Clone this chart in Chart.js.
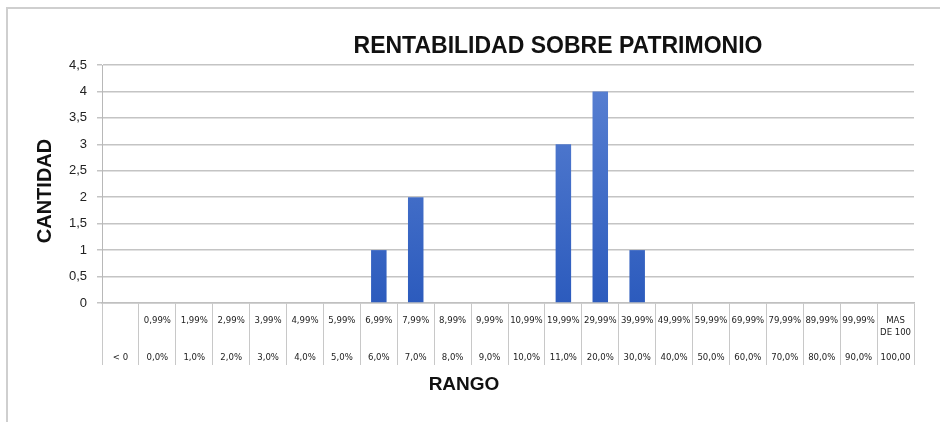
<!DOCTYPE html>
<html>
<head>
<meta charset="utf-8">
<script src="https://cdn.jsdelivr.net/npm/chart.js@4.4.1/dist/chart.umd.min.js"></script>
<style>
  body { margin: 0; background: #fff; }
  #wrap { position: absolute; left: 0; top: 0; width: 940px; height: 422px; }
  #frame { position: absolute; left: 6px; top: 7px; width: 960px; height: 440px;
           border-top: 2px solid #cfcfcf; border-left: 2px solid #cfcfcf; pointer-events: none; }
</style>
</head>
<body>
<div id="wrap"><canvas id="chart-bar" width="940" height="422"></canvas></div>
<div id="frame"></div>
<script>
// rangos (linea superior / linea inferior de cada celda)
var upperLabels = ["", "0,99%", "1,99%", "2,99%", "3,99%", "4,99%", "5,99%", "6,99%", "7,99%", "8,99%", "9,99%",
                   "10,99%", "19,99%", "29,99%", "39,99%", "49,99%", "59,99%", "69,99%", "79,99%", "89,99%", "99,99%", "MAS"];
var lowerLabels = ["< 0", "0,0%", "1,0%", "2,0%", "3,0%", "4,0%", "5,0%", "6,0%", "7,0%", "8,0%", "9,0%",
                   "10,0%", "11,0%", "20,0%", "30,0%", "40,0%", "50,0%", "60,0%", "70,0%", "80,0%", "90,0%", "100,00"];
var cantidad = [0, 0, 0, 0, 0, 0, 0, 1, 2, 0, 0, 0, 3, 4, 1, 0, 0, 0, 0, 0, 0, 0];
var yTicks = [0, 0.5, 1, 1.5, 2, 2.5, 3, 3.5, 4, 4.5];

var labels = upperLabels.map(function(u, i) {
    var second = (u === "MAS") ? "DE 100" : "";
    return [u, second, "", lowerLabels[i]];
});

// titulos dibujados a mano (posicion como en el original)
var titlesPlugin = {
    id: 'titles',
    afterDraw: function(chart) {
        var c = chart.ctx;
        c.save();
        c.fillStyle = '#111';
        c.textAlign = 'center';
        c.textBaseline = 'middle';
        c.font = "bold 23px 'Liberation Sans', sans-serif";
        c.fillText("RENTABILIDAD SOBRE PATRIMONIO", 558, 47);
        c.font = "bold 19px 'Liberation Sans', sans-serif";
        c.fillText("RANGO", 464, 385);
        c.translate(45, 191);
        c.rotate(-Math.PI / 2);
        c.font = "bold 20px 'Liberation Sans', sans-serif";
        c.fillText("CANTIDAD", 0, 0);
        c.restore();
    }
};

var ctx = document.getElementById('chart-bar');

var myChart = new Chart(ctx, {
    type: 'bar',
    data: {
        labels: labels,
        datasets: [{
            data: cantidad,
            backgroundColor: function(context) {
                var area = context.chart.chartArea;
                if (!area) return '#3a66c4';
                var g = context.chart.ctx.createLinearGradient(0, area.top, 0, area.bottom);
                g.addColorStop(0, '#5b82d3');
                g.addColorStop(1, '#2c5bbd');
                return g;
            },
            borderWidth: 0,
            barPercentage: 0.42,
            categoryPercentage: 1
        }]
    },
    options: {
        responsive: false,
        animation: false,
        layout: { padding: { top: 65, right: 26, left: 0, bottom: 0 } },
        plugins: {
            legend: { display: false },
            tooltip: { enabled: false },
            title: { display: false }
        },
        scales: {
            x: {
                grid: {
                    offset: true,
                    drawOnChartArea: false,
                    drawTicks: true,
                    tickLength: 62,
                    color: '#c8c8c8',
                    lineWidth: 1
                },
                border: { display: true, color: '#c0c0c0', width: 1.5 },
                ticks: {
                    autoSkip: false,
                    maxRotation: 0,
                    minRotation: 0,
                    padding: -51,
                    color: '#222',
                    font: { family: "'Liberation Sans Narrow', 'DejaVu Sans Condensed', sans-serif", size: 9.5, lineHeight: 1.3 }
                },
                afterFit: function(scale) { scale.height = 119; }
            },
            y: {
                min: 0,
                max: 4.5,
                afterBuildTicks: function(scale) {
                    scale.ticks = yTicks.map(function(v) { return { value: v }; });
                },
                grid: {
                    color: '#c4c4c4',
                    lineWidth: 1.5,
                    tickLength: 5
                },
                border: { display: true, color: '#b8b8b8', width: 1 },
                ticks: {
                    padding: 10,
                    color: '#222',
                    font: { family: "'Liberation Sans', sans-serif", size: 13 },
                    callback: function(v) { return String(v).replace('.', ','); }
                },
                afterFit: function(scale) { scale.width = 102; }
            }
        }
    },
    plugins: [titlesPlugin]
});
</script>
</body>
</html>
